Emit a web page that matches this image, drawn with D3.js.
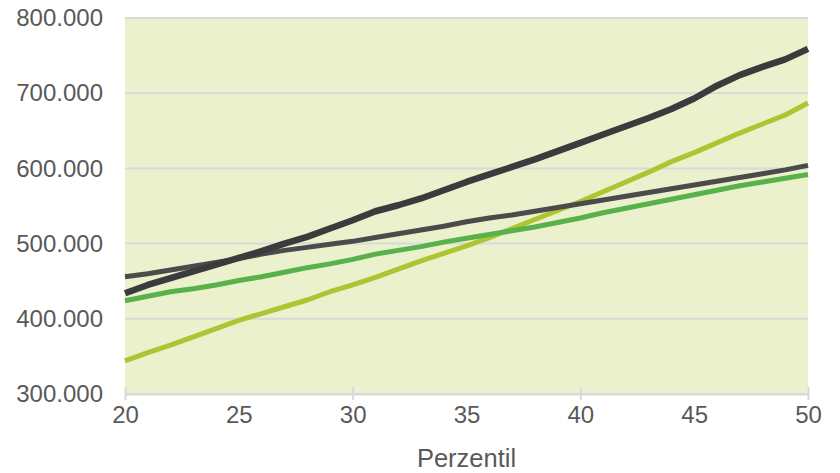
<!DOCTYPE html>
<html>
<head>
<meta charset="utf-8">
<script src="https://cdn.jsdelivr.net/npm/d3@7"></script>
<style>
  html, body { margin: 0; padding: 0; background: #ffffff; }
  svg { display: block; font-family: "Liberation Sans", Arial, sans-serif; }
</style>
</head>
<body>
<svg id="chart" width="840" height="473"></svg>
<script>
// Percentiles on the x axis
const percentiles = d3.range(20, 51);

// Values in thousands, one per percentile 20..50
const seriesDark = [434, 445, 454, 463, 472, 481, 490, 500, 509, 520, 531, 543, 551, 560, 571, 582,
                    592, 602, 612, 623, 634, 645, 656, 667, 679, 693, 710, 724, 735, 745, 759];
const seriesLime = [344, 355, 365, 376, 387, 398, 407, 416, 425, 436, 445, 455, 466, 477, 487, 497,
                    508, 520, 532, 544, 556, 569, 582, 595, 609, 621, 634, 647, 659, 671, 687];
const seriesGrey = [456, 460, 465, 470, 475, 480, 486, 491, 495, 499, 503, 508, 513, 518, 523, 529,
                    534, 538, 543, 548, 553, 558, 563, 568, 573, 578, 583, 588, 593, 598, 604];
const seriesGreen = [424, 430, 436, 440, 445, 451, 456, 462, 468, 473, 479, 486, 491, 496, 502, 507,
                     512, 517, 522, 528, 534, 541, 547, 553, 559, 565, 571, 577, 582, 587, 592];

const yTicks = [300, 400, 500, 600, 700, 800];
const xLabelTicks = [20, 25, 30, 35, 40, 45, 50];
const xMarkTicks = [20, 30, 40, 50];
const xTitle = "Perzentil";

const svg = d3.select("#chart");
const plot = { left: 125, right: 808, top: 18, bottom: 394 };

const x = d3.scaleLinear().domain([20, 50]).range([plot.left, plot.right]);
const y = d3.scaleLinear().domain([300, 800]).range([plot.bottom, plot.top]);

const textColor = "#595959";
const gridColor = "#d9d9d9";

// Plot background
svg.append("rect")
  .attr("x", plot.left).attr("y", plot.top)
  .attr("width", plot.right - plot.left).attr("height", plot.bottom - plot.top)
  .attr("fill", "#ebf1cd");

// Horizontal gridlines
svg.append("g")
  .selectAll("line")
  .data(yTicks)
  .join("line")
  .attr("x1", plot.left).attr("x2", plot.right)
  .attr("y1", d => y(d)).attr("y2", d => y(d))
  .attr("stroke", gridColor).attr("stroke-width", 2);

// Y axis labels (German number format)
const fmt = d => d3.format(",")(d * 1000).replace(/,/g, ".");
const yAxis = d3.axisLeft(y).tickValues(yTicks).tickFormat(fmt).tickSize(0).tickPadding(22);
svg.append("g")
  .attr("transform", `translate(${plot.left},0)`)
  .call(yAxis)
  .call(g => g.select(".domain").remove())
  .call(g => g.selectAll("text")
    .attr("fill", textColor).attr("font-size", 24)
    .attr("font-family", "'Liberation Sans', Arial, sans-serif"));

// X axis: tick marks every 10, labels every 5
svg.append("g")
  .attr("transform", `translate(0,${plot.bottom})`)
  .call(d3.axisBottom(x).tickValues(xMarkTicks).tickSize(6).tickSizeOuter(0).tickFormat(""))
  .call(g => g.select(".domain").attr("stroke", gridColor).attr("stroke-width", 2))
  .call(g => g.selectAll(".tick line").attr("stroke", gridColor).attr("stroke-width", 2)
    .attr("y1", -7));

svg.append("g")
  .attr("transform", `translate(0,${plot.bottom})`)
  .call(d3.axisBottom(x).tickValues(xLabelTicks).tickSize(0).tickPadding(12).tickFormat(d3.format("d")))
  .call(g => g.select(".domain").remove())
  .call(g => g.selectAll("text")
    .attr("fill", textColor).attr("font-size", 24)
    .attr("font-family", "'Liberation Sans', Arial, sans-serif"));

// X axis title
svg.append("text")
  .attr("x", (plot.left + plot.right) / 2)
  .attr("y", 467)
  .attr("text-anchor", "middle")
  .attr("fill", textColor)
  .attr("font-size", 25.5)
  .text(xTitle);

// Lines
const series = [
  { values: seriesLime, color: "#adc531", width: 5 },
  { values: seriesGreen, color: "#58b14b", width: 5 },
  { values: seriesGrey, color: "#4b4b4c", width: 5 },
  { values: seriesDark, color: "#3a3b3d", width: 6.5 }
];

const line = d3.line()
  .x((d, i) => x(percentiles[i]))
  .y(d => y(d));

svg.append("g")
  .selectAll("path")
  .data(series)
  .join("path")
  .attr("d", d => line(d.values))
  .attr("fill", "none")
  .attr("stroke", d => d.color)
  .attr("stroke-width", d => d.width)
  .attr("stroke-linejoin", "round");
</script>
</body>
</html>
